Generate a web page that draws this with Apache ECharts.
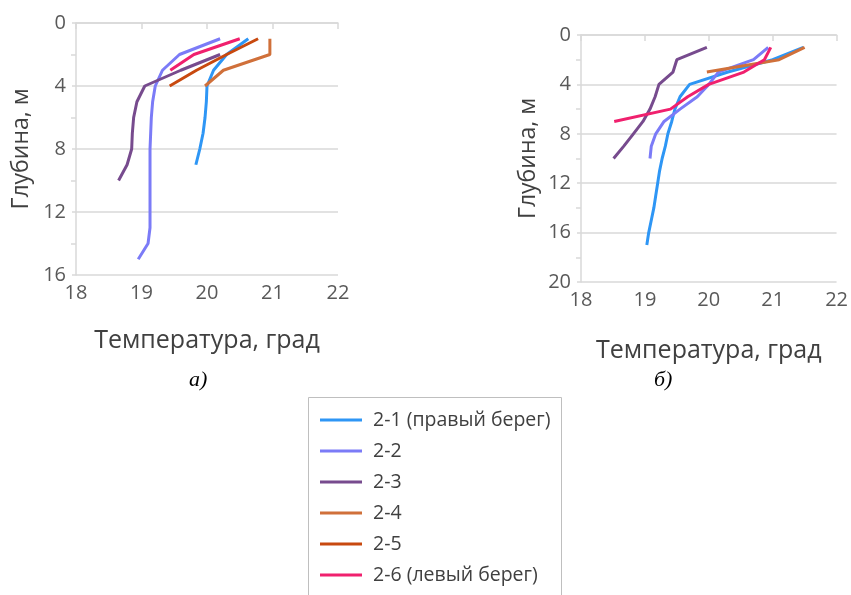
<!DOCTYPE html>
<html><head><meta charset="utf-8">
<script src="https://cdn.jsdelivr.net/npm/echarts@6/dist/echarts.min.js"></script>
<style>html,body{margin:0;padding:0;background:#fff}#c{width:851px;height:595px}</style>
</head><body><div id="c"></div>
<script>
// ---- data: panel a) ----
const names = ['2-1 (правый берег)', '2-2', '2-3', '2-4', '2-5', '2-6 (левый берег)'];
const colors = ['#2E96F5', '#7B7BF7', '#774B8E', '#D0703A', '#C8490F', '#F0206E'];

const a21Depth = [1, 2, 3, 4, 5, 6, 7, 8, 9];
const a21Temp  = [20.63, 20.3, 20.1, 20.0, 19.99, 19.97, 19.94, 19.89, 19.83];
const a22Depth = [1, 2, 3, 4, 5, 6, 7, 8, 9, 10, 11, 12, 13, 14, 15];
const a22Temp  = [20.2, 19.58, 19.32, 19.21, 19.17, 19.15, 19.14, 19.13, 19.13, 19.13, 19.13, 19.13, 19.13, 19.1, 18.95];
const a23Depth = [2, 3, 4, 5, 6, 7, 8, 9, 10];
const a23Temp  = [20.2, 19.6, 19.05, 18.93, 18.88, 18.86, 18.85, 18.78, 18.65];
const a24Depth = [1, 2, 3, 4];
const a24Temp  = [20.96, 20.96, 20.25, 19.97];
const a25Depth = [1, 2, 3, 4];
const a25Temp  = [20.78, 20.3, 19.84, 19.43];
const a26Depth = [1, 2, 3];
const a26Temp  = [20.5, 19.8, 19.44];

// ---- data: panel б) ----
const b21Depth = [1, 2, 3, 4, 5, 6, 7, 8, 9, 10, 11, 12, 13, 14, 15, 16, 17];
const b21Temp  = [21.48, 21.0, 20.3, 19.7, 19.55, 19.47, 19.42, 19.36, 19.32, 19.27, 19.23, 19.2, 19.17, 19.14, 19.1, 19.06, 19.03];
const b22Depth = [1, 2, 3, 4, 5, 6, 7, 8, 9, 10];
const b22Temp  = [20.93, 20.7, 20.15, 20.0, 19.82, 19.55, 19.3, 19.17, 19.1, 19.08];
const b23Depth = [1, 2, 3, 4, 5, 6, 7, 8, 9, 10];
const b23Temp  = [19.97, 19.5, 19.44, 19.22, 19.16, 19.08, 18.97, 18.82, 18.67, 18.51];
const b24Depth = [1, 2, 3];
const b24Temp  = [21.5, 21.1, 19.97];
const b26Depth = [1, 2, 3, 4, 5, 6, 7];
const b26Temp  = [20.97, 20.87, 20.55, 20.0, 19.67, 19.4, 18.52];

// axis settings
const xTicks = [18, 19, 20, 21, 22];
const yMaxA = 16, yMaxB = 20;
const xName = 'Температура, град';
const yName = 'Глубина, м';
const captions = ['а)', 'б)'];

const pairs = (t, d) => t.map((v, i) => [v, d[i]]);
const panelA = [[a21Temp, a21Depth], [a22Temp, a22Depth], [a23Temp, a23Depth], [a24Temp, a24Depth], [a25Temp, a25Depth], [a26Temp, a26Depth]];
const panelB = [[b21Temp, b21Depth], [b22Temp, b22Depth], [b23Temp, b23Depth], [b24Temp, b24Depth], null, [b26Temp, b26Depth]];

const FONT = 'Open Sans';
const labelColor = '#595959';
const lineGray = '#D9D9D9';

function xAxis(gi, gap) {
  return {
    type: 'value', gridIndex: gi, min: xTicks[0], max: xTicks[xTicks.length - 1], interval: 1,
    name: xName, nameLocation: 'middle', nameGap: gap,
    nameTextStyle: { fontFamily: FONT, fontSize: 25, color: '#404040' },
    axisLine: { show: true, lineStyle: { color: lineGray, width: 1.5 } },
    axisTick: { show: true, length: 6, lineStyle: { color: lineGray, width: 1.5 } },
    axisLabel: { fontFamily: FONT, fontSize: 20, color: labelColor, margin: 8 },
    splitLine: { show: false }
  };
}
function yAxis(gi, max, gap) {
  return {
    type: 'value', gridIndex: gi, min: 0, max: max, interval: 4, inverse: true,
    name: yName, nameLocation: 'middle', nameGap: gap, nameRotate: 90,
    nameTextStyle: { fontFamily: FONT, fontSize: 23, color: '#404040' },
    axisLine: { show: true, lineStyle: { color: lineGray, width: 1.5 } },
    axisTick: { show: true, length: 4, lineStyle: { color: lineGray, width: 1.5 } },
    minorTick: { show: true, splitNumber: 2, length: 5, lineStyle: { color: lineGray, width: 1.5 } },
    axisLabel: { fontFamily: FONT, fontSize: 20, color: labelColor, margin: 10 },
    splitLine: { show: true, lineStyle: { color: lineGray, width: 1.5 } }
  };
}

const series = [];
[panelA, panelB].forEach((panel, gi) => {
  panel.forEach((s, i) => {
    if (!s) return;
    series.push({
      name: names[i], type: 'line', xAxisIndex: gi, yAxisIndex: gi,
      data: pairs(s[0], s[1]), showSymbol: false, symbol: 'none',
      lineStyle: { width: 3, color: colors[i] }, itemStyle: { color: colors[i] },
      z: 3
    });
  });
});

const chart = echarts.init(document.getElementById('c'), null, { renderer: 'canvas' });
chart.setOption({
  animation: false,
  backgroundColor: '#fff',
  grid: [
    { left: 76, top: 23, width: 262, height: 252 },
    { left: 581, top: 35, width: 257, height: 247 }
  ],
  xAxis: [xAxis(0, 53), xAxis(1, 56)],
  yAxis: [yAxis(0, yMaxA, 43), yAxis(1, yMaxB, 41)],
  legend: {
    orient: 'vertical', left: 315, top: 405, itemGap: 11,
    icon: 'rect', itemWidth: 42, itemHeight: 3,
    data: names,
    textStyle: { fontFamily: FONT, fontSize: 19.5, color: '#404040', lineHeight: 20, padding: [0, 0, 0, 6] }
  },
  graphic: [
    { type: 'rect', shape: { x: 308.5, y: 397.5, width: 253, height: 210 }, style: { fill: 'none', stroke: '#BFBFBF', lineWidth: 1 }, silent: true },
    { type: 'text', left: 189, top: 369, style: { text: captions[0], font: 'italic 22px "Liberation Serif"', fill: '#000' } },
    { type: 'text', left: 654, top: 369, style: { text: captions[1], font: 'italic 22px "Liberation Serif"', fill: '#000' } }
  ],
  series: series
});
</script></body></html>
